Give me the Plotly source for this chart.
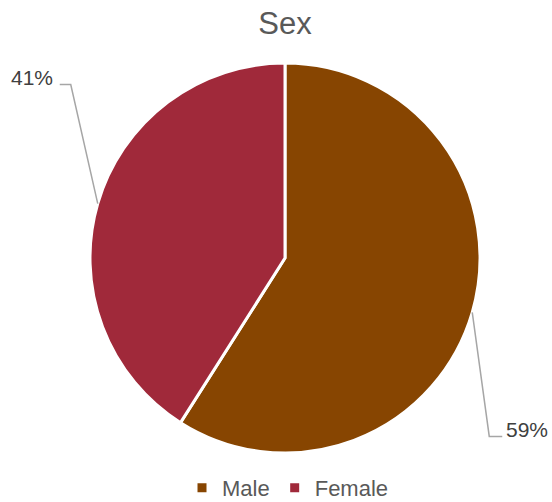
import math
import plotly.graph_objects as go

labels = ["Male", "Female"]
values = [59, 41]
colors = ["#874501", "#A0293A"]

W, H = 552, 502
cx, cy, R = 285, 258, 195  # pie centre and radius in px

fig = go.Figure(go.Pie(
    labels=labels, values=values, sort=False, direction="clockwise", rotation=0,
    marker=dict(colors=colors, line=dict(color="white", width=3)),
    textinfo="none", hoverinfo="label+percent",
    domain=dict(x=[(cx - R) / W, (cx + R) / W], y=[1 - (cy + R) / H, 1 - (cy - R) / H]),
))

def px2paper(x, y):
    return x / W, 1 - y / H

total = sum(values)
cum = 0
# elbow offsets (dx, dy), horizontal length in px, and label side for each slice
leader = {"Male": (17, 124, 13, "left"), "Female": (-27, -119, -11, "right")}
shapes, annos = [], []
for lab, v in zip(labels, values):
    mid = (cum + v / 2) / total * 2 * math.pi
    cum += v
    ex = cx + R * math.sin(mid)
    ey = cy - R * math.cos(mid)
    ddx, ddy, hl, side = leader[lab]
    bx, by = ex + ddx, ey + ddy
    tx = bx + hl
    pts = [(ex, ey), (bx, by), (tx, by)]
    path = "M " + " L ".join(f"{px2paper(x, y)[0]},{px2paper(x, y)[1]}" for x, y in pts)
    shapes.append(dict(type="path", xref="paper", yref="paper", path=path,
                       line=dict(color="#A6A6A6", width=1.5)))
    ax, ay = px2paper(tx + (2 if side == "left" else -5), by - 7)
    annos.append(dict(x=ax, y=ay, xref="paper", yref="paper", showarrow=False,
                      text=f"{round(v / total * 100)}%", xanchor=side, yanchor="middle",
                      font=dict(size=21, color="#404040", family="Liberation Sans")))

fig.update_layout(
    width=W, height=H,
    margin=dict(l=0, r=0, t=0, b=0, autoexpand=False),
    paper_bgcolor="white", plot_bgcolor="white",
    title=dict(text="Sex", x=cx / W, xanchor="center", y=1 - 23 / H, yanchor="middle",
               font=dict(size=31, color="#595959", family="Liberation Sans")),
    legend=dict(orientation="h", x=0.5 + 12 / W, xanchor="center", y=1 - 488 / H, yanchor="middle",
                font=dict(size=22, color="#595959", family="Liberation Sans"),
                itemwidth=30, traceorder="normal"),
    shapes=shapes, annotations=annos,
)
fig.write_html("out.html", config={"displayModeBar": False},
               post_script="document.body.style.margin='0';")
